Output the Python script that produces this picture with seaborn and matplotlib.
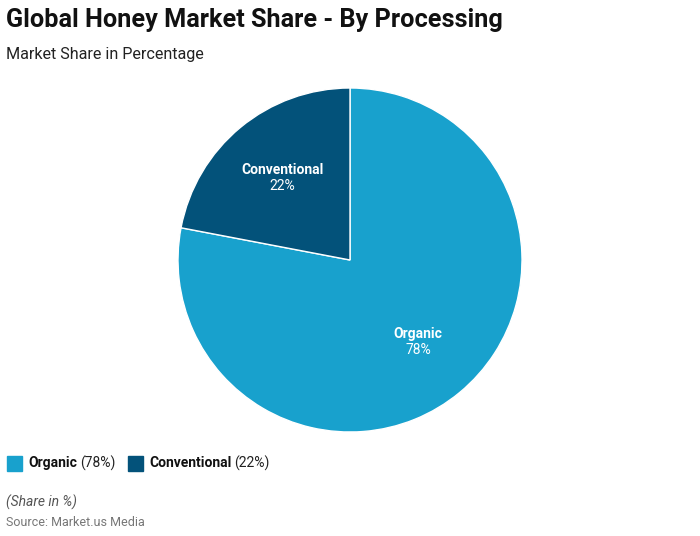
import matplotlib
matplotlib.use("Agg")
import matplotlib.pyplot as plt
import seaborn as sns
import numpy as np

categories = ["Organic", "Conventional"]
shares = [78, 22]
colors = ["#18a1cd", "#03527a"]

sns.set_theme(style="white")
plt.rcParams['font.family'] = ['Roboto', 'DejaVu Sans']

fig = plt.figure(figsize=(7, 5.36), dpi=100)
W, H = 700, 536
cx, cy, r = 350, 260, 172
ax = fig.add_axes([(cx - r) / W, (H - cy - r) / H, 2 * r / W, 2 * r / H])
wedges, _ = ax.pie(shares, colors=colors, startangle=90, counterclock=False,
                   wedgeprops=dict(edgecolor="white", linewidth=1), radius=1)
ax.set_xlim(-1, 1); ax.set_ylim(-1, 1); ax.set_aspect('equal')
ax.axis('off')

for w, cat, val in zip(wedges, categories, shares):
    ang = np.deg2rad((w.theta1 + w.theta2) / 2)
    x, y = 0.62 * np.cos(ang), 0.62 * np.sin(ang)
    ax.text(x, y + 0.045, cat, ha='center', va='center', color='white',
            fontsize=10, fontweight='bold')
    ax.text(x, y - 0.045, f"{val}%", ha='center', va='center', color='white',
            fontsize=10)

fig.text(6 / W, 1 - 20 / H, "Global Honey Market Share - By Processing",
         fontsize=18.2, fontweight='bold', color='#111111', va='center', ha='left')
fig.text(6 / W, 1 - 55 / H, "Market Share in Percentage",
         fontsize=11.6, color='#222222', va='center', ha='left')

# legend
lx = 7
ly = 463
for cat, val, col in zip(categories, shares, colors):
    fig.patches.append(plt.Rectangle((lx / W, 1 - (ly + 7.5) / H), 15 / W, 15 / H,
                                     transform=fig.transFigure, color=col))
    t1 = fig.text((lx + 21) / W, 1 - ly / H, cat, fontsize=10, fontweight='bold',
                  color='#111111', va='center', ha='left')
    fig.canvas.draw()
    bb = t1.get_window_extent()
    t2 = fig.text(bb.x1 / W + 3 / W, 1 - ly / H, f"({val}%)", fontsize=10,
                  color='#222222', va='center', ha='left')
    fig.canvas.draw()
    bb2 = t2.get_window_extent()
    lx = bb2.x1 + 13

fig.text(6 / W, 1 - 502 / H, "(Share in %)", fontsize=10, style='italic',
         color='#555555', va='center', ha='left')
fig.text(6 / W, 1 - 523 / H, "Source: Market.us Media", fontsize=9,
         color='#777777', va='center', ha='left')

fig.savefig("out.png", dpi=100, facecolor='white')
